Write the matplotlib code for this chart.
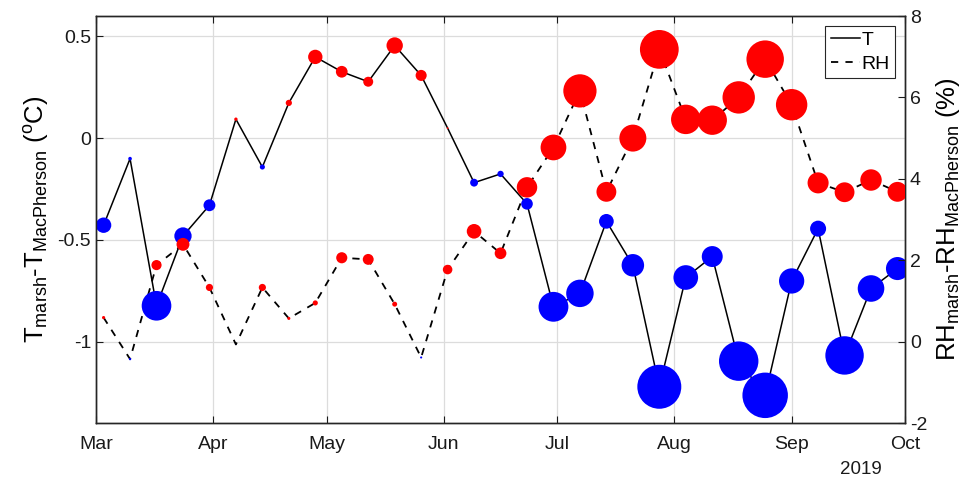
import matplotlib
matplotlib.use("Agg")
import matplotlib.pyplot as plt
import numpy as np
import pandas as pd

plt.rcParams['font.family'] = ['Liberation Sans', 'DejaVu Sans']
plt.rcParams['mathtext.fontset'] = 'custom'
plt.rcParams['mathtext.rm'] = 'Liberation Sans'
plt.rcParams['mathtext.it'] = 'Liberation Sans:italic'
plt.rcParams['axes.unicode_minus'] = False

# weekly differences, marsh minus MacPherson station
dates = pd.date_range('2019-03-03', periods=31, freq='7D')

dT = [-0.428, -0.101, -0.824, -0.481, -0.330, 0.093, -0.142, 0.173, 0.399, 0.326,
      0.277, 0.455, 0.308, 0.049, -0.219, -0.176, -0.323, -0.829, -0.763, -0.409,
      -0.625, -1.222, -0.685, -0.582, -1.096, -1.264, -0.702, -0.445, -1.068, -0.739,
      -0.641]

dRH = [0.59, -0.43, 1.88, 2.39, 1.33, -0.07, 1.33, 0.57, 0.95, 2.06,
       2.02, 0.92, -0.39, 1.77, 2.71, 2.17, 3.79, 4.77, 6.16, 3.68,
       5.00, 7.18, 5.46, 5.44, 6.00, 6.94, 5.82, 3.90, 3.67, 3.97,
       3.68]

month_ticks = pd.date_range('2019-03-01', '2019-10-01', freq='MS')
month_labels = ['Mar', 'Apr', 'May', 'Jun', 'Jul', 'Aug', 'Sep', 'Oct']

dT = np.array(dT)
dRH = np.array(dRH)

def colors(v):
    return ['#ff0000' if x > 0 else '#0000ff' for x in v]

fig = plt.figure(figsize=(9.69, 4.82), dpi=100)
ax1 = fig.add_axes([0.0991, 0.1224, 0.8349, 0.8444])
ax2 = ax1.twinx()

ax1.set_xlim(month_ticks[0], month_ticks[-1])
ax1.set_ylim(-1.4, 0.6)
ax2.set_ylim(-2, 8)

# lines under every marker; RH line uses the right axis scale
lT, = ax1.plot(dates, dT, '-', color='k', lw=1.1, zorder=2, label='T')
lRH, = ax1.plot(dates, dRH, '--', color='k', lw=1.3, dashes=(4, 4), zorder=2,
                transform=ax2.transData, label='RH')
ax1.scatter(dates, dT, s=671 * dT**2, c=colors(dT), linewidths=0, zorder=3)
ax2.scatter(dates, dRH, s=15.1 * dRH**2, c=colors(dRH), linewidths=0, zorder=3)

ax1.set_xticks(month_ticks)
ax1.set_xticklabels(month_labels)
ax1.set_yticks([-1, -0.5, 0, 0.5])
ax1.set_yticklabels(['-1', '-0.5', '0', '0.5'])
ax2.set_yticks([-2, 0, 2, 4, 6, 8])

ax1.grid(True, color='#dcdcdc', lw=0.9)
ax1.set_axisbelow(True)

fs = 14
ax1.tick_params(axis='x', direction='in', top=True, length=5, labelsize=fs, pad=9, colors='#1a1a1a')
ax1.tick_params(axis='y', direction='in', right=False, length=5, labelsize=fs, colors='#1a1a1a')
ax2.tick_params(axis='y', direction='in', length=5, labelsize=fs, colors='#1a1a1a')
for ax in (ax1, ax2):
    for sp in ax.spines.values():
        sp.set_color('#262626')
        sp.set_linewidth(1.0)

ax1.set_ylabel(r'T$_{\rm marsh}$-T$_{\rm MacPherson}$ ($^{\rm o}$C)', fontsize=18.5, labelpad=5)
ax2.set_ylabel(r'RH$_{\rm marsh}$-RH$_{\rm MacPherson}$ (%)', fontsize=18.5, labelpad=5)

ax1.text(0.945, -0.093, '2019', transform=ax1.transAxes, fontsize=13.5,
         color='#1a1a1a', ha='center', va='top')

leg = ax2.legend(handles=[lT, lRH], loc='upper right', fontsize=fs,
                 fancybox=False, edgecolor='#262626', framealpha=1,
                 handlelength=1.5, handletextpad=0.05, borderpad=0.3,
                 labelspacing=0.3, borderaxespad=0.5)
leg.get_frame().set_linewidth(0.8)

fig.savefig('out.png', dpi=100)
